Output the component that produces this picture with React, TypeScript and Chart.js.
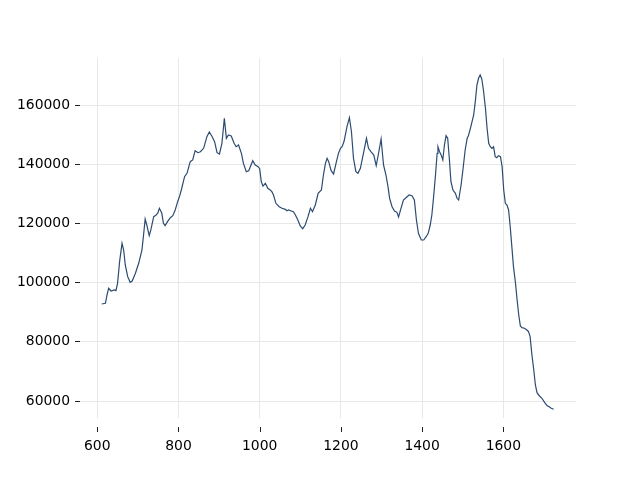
import React, { useEffect, useRef } from "react";
import { Chart, registerables } from "chart.js";

Chart.register(...registerables);

const xValues = [
  611, 620, 624, 628, 634, 642, 646, 650, 655, 661, 665, 669, 675, 681, 686, 694,
  702, 710, 714, 718, 722, 728, 732, 739, 745, 749, 753, 759, 763, 767, 773, 780,
  786, 792, 798, 803, 807, 815, 821, 829, 835, 841, 848, 854, 862, 870, 876, 883,
  889, 895, 901, 907, 913, 918, 923, 930, 937, 942, 948, 955, 960, 967, 973, 983,
  989, 996, 1000, 1004, 1008, 1014, 1020, 1026, 1030, 1034, 1040, 1048, 1055, 1063,
  1067, 1071, 1078, 1083, 1088, 1094, 1100, 1106, 1112, 1119, 1125, 1130, 1137,
  1144, 1152, 1157, 1162, 1166, 1170, 1176, 1182, 1188, 1194, 1199, 1203, 1208,
  1215, 1221, 1226, 1231, 1237, 1242, 1248, 1253, 1258, 1263, 1268, 1274, 1281,
  1287, 1292, 1299, 1305, 1311, 1316, 1320, 1326, 1332, 1338, 1342, 1348, 1354,
  1363, 1368, 1375, 1381, 1386, 1391, 1398, 1404, 1410, 1415, 1420, 1424, 1428,
  1433, 1437, 1439, 1443, 1447, 1451, 1455, 1459, 1463, 1467, 1471, 1476, 1482,
  1486, 1490, 1496, 1501, 1506, 1511, 1514, 1519, 1523, 1527, 1531, 1535, 1539,
  1543, 1547, 1551, 1556, 1560, 1564, 1568, 1572, 1576, 1580, 1584, 1588, 1593,
  1597, 1601, 1605, 1609, 1613, 1617, 1621, 1625, 1630, 1634, 1638, 1642, 1646,
  1652, 1658, 1662, 1666, 1670, 1675, 1679, 1683, 1689, 1695, 1702, 1708, 1713,
  1718, 1724,
];

const yValues = [
  92780, 93010, 95810, 98080, 97170, 97500, 97280, 99770, 107070, 113280, 111000,
  105950, 102000, 100100, 100550, 103150, 106530, 111000, 116080, 121490, 119460,
  115850, 117780, 122270, 122840, 123420, 125100, 123420, 120040, 119230, 120580,
  121930, 122610, 124530, 127340, 129300, 131290, 135780, 136920, 140850, 141420,
  144560, 143890, 144220, 145370, 149290, 150880, 149290, 147600, 143890, 143450,
  147060, 155500, 148750, 149870, 149530, 147060, 145910, 146490, 143680, 140300,
  137470, 137810, 141180, 139730, 139160, 138500, 134090, 132600, 133550, 131860,
  131290, 130720, 129600, 126790, 125650, 125100, 124760, 124290, 124530, 124190,
  123950, 122840, 121150, 119130, 118210, 119460, 122270, 125100, 123950, 126220,
  130170, 131290, 136350, 140300, 141990, 140850, 137810, 136690, 140300, 143680,
  145370, 145910, 147840, 152670, 155710, 150980, 141990, 137470, 136920, 138620,
  141990, 145370, 148750, 145370, 144220, 143110, 139500, 143110, 148520, 139730,
  136350, 132400, 128480, 125650, 124190, 123750, 122160, 125100, 127910, 129020,
  129600, 129360, 127910, 121150, 116660, 114400, 114400, 115510, 116660, 119460,
  122840, 128480, 136350, 143680, 145910, 144220, 143110, 141420, 146490, 149630,
  148750, 141990, 134090, 131290, 130170, 128480, 127910, 132980, 138620, 144800,
  148750, 149630, 152130, 154360, 156620, 161120, 166760, 169020, 170130, 168780,
  165070, 158890, 152130, 147060, 145910, 145370, 145910, 142540, 142200, 142880,
  142540, 139160, 131290, 126790, 126220, 124530, 118890, 112140, 105380, 99770,
  94130, 89060, 85350, 84780, 84570, 84000, 83420, 81730, 76120, 70480, 65420,
  62820, 61700, 60920, 59440, 58420, 58080, 57540, 57200,
];

const xTicks = [600, 800, 1000, 1200, 1400, 1600];
const yTicks = [60000, 80000, 100000, 120000, 140000, 160000];

const FONT = { family: "'DejaVu Sans', sans-serif", size: 13.9 };
const GRID = "#e8e8e8";
const TICK = "#222222";

export default function App() {
  const ref = useRef<HTMLCanvasElement | null>(null);

  useEffect(() => {
    if (!ref.current) return;
    const xTickPlugin = {
      id: "xTickMarks",
      afterDraw(chart: any) {
        const s = chart.scales.x;
        const ctx = chart.ctx;
        const bottom = chart.chartArea.bottom;
        ctx.save();
        ctx.strokeStyle = TICK;
        ctx.lineWidth = 1;
        ctx.beginPath();
        for (const v of xTicks) {
          const px = Math.round(s.getPixelForValue(v)) + 0.5;
          ctx.moveTo(px, bottom + 9);
          ctx.lineTo(px, bottom + 14);
        }
        ctx.stroke();
        ctx.restore();
      },
    };

    const chart = new Chart(ref.current, {
      type: "line",
      data: {
        datasets: [
          {
            data: xValues.map((x, i) => ({ x, y: yValues[i] })),
            borderColor: "#2c4b70",
            borderWidth: 1.2,
            pointRadius: 0,
            tension: 0,
            fill: false,
          },
        ],
      },
      options: {
        responsive: false,
        animation: false,
        layout: { padding: { top: 58, right: 64, bottom: 0, left: 0 } },
        plugins: { legend: { display: false }, tooltip: { enabled: false } },
        scales: {
          x: {
            type: "linear",
            min: 557.5,
            max: 1779,
            border: { display: false },
            grid: { color: GRID, lineWidth: 1, drawTicks: false },
            ticks: {
              font: FONT,
              color: "#000",
              padding: 20,
              maxRotation: 0,
              callback: (v: any) => String(v),
            },
            afterBuildTicks: (s: any) => {
              s.ticks = xTicks.map((v) => ({ value: v }));
            },
            afterFit: (s: any) => {
              s.height = 62;
            },
          },
          y: {
            type: "linear",
            min: 54260,
            max: 175880,
            border: { display: false },
            grid: { color: GRID, lineWidth: 1, drawTicks: true, tickLength: 5, tickColor: TICK },
            ticks: { font: FONT, color: "#000", padding: 5, callback: (v: any) => String(v) },
            afterBuildTicks: (s: any) => {
              s.ticks = yTicks.map((v) => ({ value: v }));
            },
            afterFit: (s: any) => {
              s.width = 80;
            },
          },
        },
      },
      plugins: [xTickPlugin],
    });
    return () => chart.destroy();
  }, []);

  return (
    <div style={{ position: "absolute", left: 0, top: 0, width: 640, height: 480, background: "#fff" }}>
      <canvas ref={ref} width={640} height={480} style={{ display: "block" }} />
    </div>
  );
}
